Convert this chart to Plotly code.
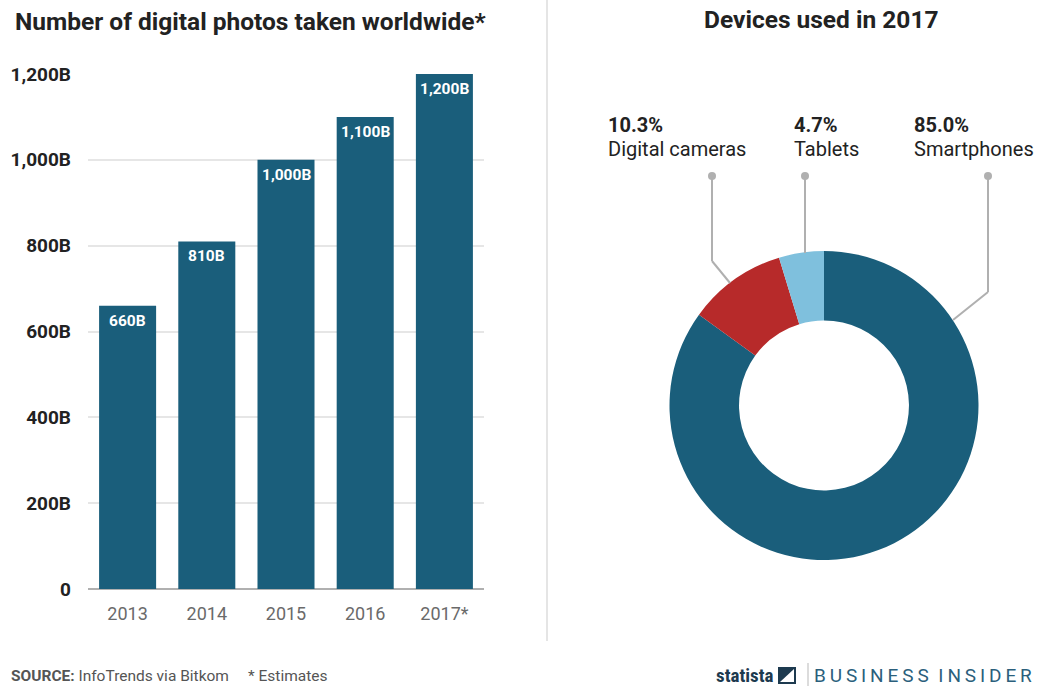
import plotly.graph_objects as go

# ---- data ----
years = ["2013", "2014", "2015", "2016", "2017*"]
photos_billion = [660, 810, 1000, 1100, 1200]
bar_labels = ["660B", "810B", "1,000B", "1,100B", "1,200B"]
y_ticks = [0, 200, 400, 600, 800, 1000, 1200]
y_tick_labels = ["0", "200B", "400B", "600B", "800B", "1,000B", "1,200B"]

devices = ["Smartphones", "Digital cameras", "Tablets"]
device_share = [85.0, 10.3, 4.7]

# ---- style ----
W, H = 1042, 686
FONT = "Roboto"
DARK = "#1a5e7b"
RED = "#b72a2a"
LIGHT = "#7fc0dd"
device_colors = [DARK, RED, LIGHT]
LEADER = "#b0b0b0"


def px(x):
    return x / W


def py(y):
    return 1 - y / H


xpos = list(range(len(years)))

fig = go.Figure()

fig.add_trace(go.Bar(
    x=xpos, y=photos_billion, width=0.72,
    marker=dict(color=DARK, line=dict(width=0)),
    hoverinfo="skip", showlegend=False,
))

for xi, v, lab in zip(xpos, photos_billion, bar_labels):
    fig.add_annotation(x=xi, y=v, xref="x", yref="y", text="<b>%s</b>" % lab,
                       showarrow=False, yshift=-15, yanchor="middle",
                       font=dict(family=FONT, size=15.5, color="white"))

fig.add_trace(go.Pie(
    labels=devices, values=device_share, hole=0.55, sort=False,
    direction="clockwise", rotation=0,
    marker=dict(colors=device_colors, line=dict(width=0)),
    textinfo="none", hoverinfo="skip", showlegend=False,
    domain=dict(x=[px(669), px(979)], y=[py(560), py(251)]),
))

fig.update_layout(
    template="none",
    width=W, height=H, autosize=False,
    margin=dict(l=0, r=0, t=0, b=0, pad=0, autoexpand=False),
    paper_bgcolor="white", plot_bgcolor="white",
    font=dict(family=FONT),
    hovermode=False,
    xaxis=dict(domain=[px(88), px(484)], range=[-0.5, len(years) - 0.5],
               tickvals=xpos, ticktext=years, automargin=False,
               showgrid=False, zeroline=False,
               showline=False, ticks="", ticklabelstandoff=12,
               tickfont=dict(family=FONT, size=18, color="#6a6a6a"),
               fixedrange=True),
    yaxis=dict(domain=[py(589), py(74)], range=[0, 1200], automargin=False,
               tickvals=y_ticks, ticktext=["<b>%s</b>" % t for t in y_tick_labels],
               showgrid=True, gridcolor="#e6e6e6", gridwidth=2,
               zeroline=True, zerolinecolor="#b0b0b0", zerolinewidth=2,
               showline=False, ticks="", ticklabelstandoff=16,
               tickfont=dict(family=FONT, size=19, color="#222222"),
               fixedrange=True),
)

shapes = []
# divider
shapes.append(dict(type="line", xref="paper", yref="paper",
                   x0=px(547), x1=px(547), y0=py(0), y1=py(641),
                   line=dict(color="#dcdcdc", width=1.5)))
# leader lines
leaders = [
    [(712, 176), (712, 261), (730, 283)],
    [(805, 176), (805, 253)],
    [(988, 176), (988, 292), (953, 320)],
]
for pts in leaders:
    for (x0, y0), (x1, y1) in zip(pts[:-1], pts[1:]):
        shapes.append(dict(type="line", xref="paper", yref="paper",
                           x0=px(x0), y0=py(y0), x1=px(x1), y1=py(y1),
                           line=dict(color=LEADER, width=2)))
    x, y = pts[0]
    shapes.append(dict(type="circle", xref="paper", yref="paper",
                       x0=px(x - 4), x1=px(x + 4), y0=py(y + 4), y1=py(y - 4),
                       fillcolor=LEADER, line=dict(width=0)))
# statista logo icon
shapes.append(dict(type="path", xref="paper", yref="paper",
                   path="M %f %f L %f %f L %f %f L %f %f Z" % (
                       px(778), py(667), px(796), py(667), px(796), py(684), px(778), py(684)),
                   fillcolor="#1d3a4f", line=dict(width=0)))
shapes.append(dict(type="path", xref="paper", yref="paper",
                   path="M %f %f L %f %f L %f %f Z" % (
                       px(780), py(682), px(794), py(669), px(794), py(682)),
                   fillcolor="white", line=dict(width=0)))
shapes.append(dict(type="line", xref="paper", yref="paper",
                   x0=px(808), x1=px(808), y0=py(663), y1=py(686),
                   line=dict(color="#d0d0d0", width=1.5)))
fig.update_layout(shapes=shapes)

TS = "\u2009"
bi_text = ("\u2002").join(TS.join(w) for w in ["BUSINESS", "INSIDER"])

ann = [
    dict(x=px(13), y=py(22), text="<b>Number of digital photos taken worldwide*</b>",
         xanchor="left", font=dict(size=24.5, color="#222222")),
    dict(x=px(821), y=py(20), text="<b>Devices used in 2017</b>",
         xanchor="center", font=dict(size=24.5, color="#222222")),
    dict(x=px(606), y=py(125.5), text="<b>10.3%</b>", xanchor="left",
         font=dict(size=20, color="#222222")),
    dict(x=px(606), y=py(149), text="Digital cameras", xanchor="left",
         font=dict(size=20, color="#222222")),
    dict(x=px(792), y=py(125.5), text="<b>4.7%</b>", xanchor="left",
         font=dict(size=20, color="#222222")),
    dict(x=px(792), y=py(149), text="Tablets", xanchor="left",
         font=dict(size=20, color="#222222")),
    dict(x=px(912), y=py(125.5), text="<b>85.0%</b>", xanchor="left",
         font=dict(size=20, color="#222222")),
    dict(x=px(912), y=py(149), text="Smartphones", xanchor="left",
         font=dict(size=20, color="#222222")),
    dict(x=px(9), y=py(676), text="<b>SOURCE:</b> InfoTrends via Bitkom", xanchor="left",
         font=dict(size=15.5, color="#555555")),
    dict(x=px(246), y=py(676), text="* Estimates", xanchor="left",
         font=dict(size=15.5, color="#555555")),
    dict(x=px(775), y=py(675), text="<b>statista</b>", xanchor="right",
         font=dict(size=19, color="#1d3a4f", family="Roboto Condensed, Roboto")),
    dict(x=px(1034), y=py(675), text=bi_text, xanchor="right",
         font=dict(size=19, color="#2b5f7c", family="Roboto")),
]
for a in ann:
    a.setdefault("xref", "paper")
    a.setdefault("yref", "paper")
    a["showarrow"] = False
    a["yanchor"] = "middle"
    a["font"].setdefault("family", FONT)
    fig.add_annotation(**a)

fig.write_html("out.html", config={"displayModeBar": False, "staticPlot": True},
               post_script="document.body.style.margin='0px';document.body.style.padding='0px';")
